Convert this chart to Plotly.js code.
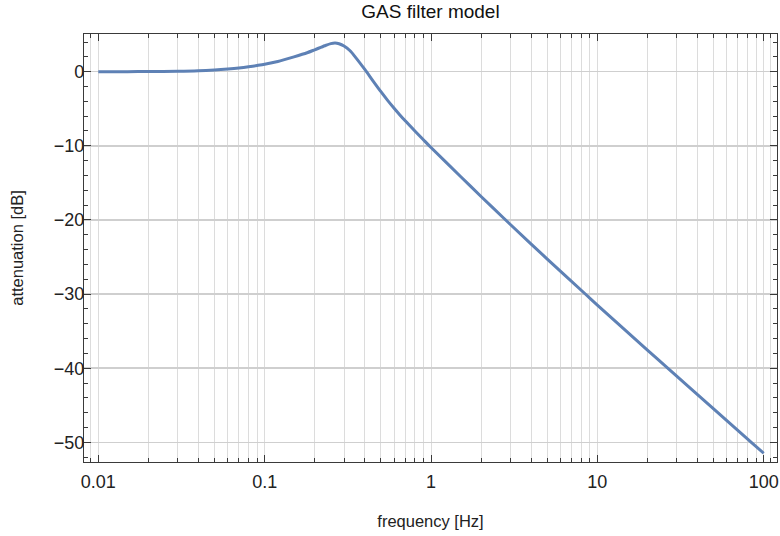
<!DOCTYPE html>
<html>
<head>
<meta charset="utf-8">
<script src="https://cdn.plot.ly/plotly-3.0.1.min.js"></script>
<style>html,body{margin:0;padding:0;background:#fff;}#chart{width:780px;height:536px;}</style>
</head>
<body>
<div id="chart"></div>
<script>
// frequency [Hz]
const freq = [0.01, 0.015, 0.02, 0.03, 0.04, 0.05, 0.06, 0.07, 0.08, 0.09, 0.1, 0.12, 0.15, 0.18, 0.2, 0.23, 0.25, 0.265, 0.28, 0.3, 0.325, 0.35, 0.4, 0.45, 0.5, 0.55, 0.6, 0.65, 0.7, 0.8, 0.9, 1.0, 1.5, 2, 2.75, 3, 5, 8.53, 10, 20, 26.8, 50, 84.9, 100];
// attenuation [dB]
const atten = [0.0, 0.005, 0.015, 0.05, 0.12, 0.23, 0.36, 0.5, 0.66, 0.83, 1.0, 1.38, 2.0, 2.55, 2.95, 3.5, 3.78, 3.86, 3.76, 3.45, 2.85, 2.0, 0.3, -1.3, -2.7, -3.9, -4.93, -5.83, -6.63, -8.0, -9.18, -10.23, -14.1, -16.83, -19.8, -20.61, -25.27, -30.05, -31.47, -37.55, -40.08, -45.47, -50.05, -51.46];

const xMajor = [0.01, 0.1, 1, 10, 100];
const xMajorText = ['0.01', '0.1', '1', '10', '100'];
const xMinor = [];
[0.01, 0.1, 1, 10].forEach(d => { for (let k = 2; k <= 9; k++) xMinor.push(+(d * k).toPrecision(3)); });
xMinor.push(0.009, 110);

const frameColor = '#3a3a3a';
const fontFam = 'Liberation Sans, Arial, sans-serif';

const trace = {
  x: freq, y: atten, type: 'scatter', mode: 'lines',
  line: {color: '#5E81B5', width: 3, shape: 'spline', smoothing: 0.8},
  hoverinfo: 'skip'
};

const layout = {
  width: 780, height: 536,
  paper_bgcolor: '#fff', plot_bgcolor: '#fff',
  margin: {l: 84, r: 3, t: 34, b: 74},
  showlegend: false,
  font: {family: fontFam, size: 17, color: '#222'},
  title: {text: 'GAS filter model', font: {family: fontFam, size: 19, color: '#111'},
          x: 0.5, xref: 'paper', y: 0.978, yref: 'container', yanchor: 'middle'},
  xaxis: {
    type: 'log', range: [-2.086, 2.08],
    tickmode: 'array', tickvals: xMajor, ticktext: xMajorText,
    ticks: 'inside', ticklen: 7, tickwidth: 1, tickcolor: frameColor,
    showline: true, linecolor: frameColor, linewidth: 1.2, mirror: 'allticks',
    showgrid: true, gridcolor: '#dcdcdc', gridwidth: 1,
    minor: {tickmode: 'array', tickvals: xMinor, ticks: 'inside', ticklen: 4, tickcolor: frameColor,
            showgrid: true, gridcolor: '#dcdcdc', gridwidth: 1},
    tickfont: {size: 18, color: '#222'},
    ticklabelstandoff: 3,
    zeroline: false,
    title: {text: 'frequency [Hz]', font: {size: 16.5, color: '#222'}, standoff: 24}
  },
  yaxis: {
    range: [-52.64, 5.08],
    tickmode: 'linear', tick0: 0, dtick: 10,
    ticks: 'inside', ticklen: 7, tickwidth: 1, tickcolor: frameColor,
    showline: true, linecolor: frameColor, linewidth: 1.2, mirror: 'allticks',
    showgrid: true, gridcolor: '#cfcfcf', gridwidth: 1.6,
    minor: {tickmode: 'linear', tick0: 0, dtick: 2, ticks: 'inside', ticklen: 4, tickcolor: frameColor, showgrid: false},
    tickfont: {size: 18, color: '#222'},
    ticklabelstandoff: -5,
    zeroline: false,
    title: {text: 'attenuation [dB]', font: {size: 16.5, color: '#222'}, standoff: 25}
  }
};

Plotly.newPlot('chart', [trace], layout, {staticPlot: true, displayModeBar: false});
</script>
</body>
</html>
